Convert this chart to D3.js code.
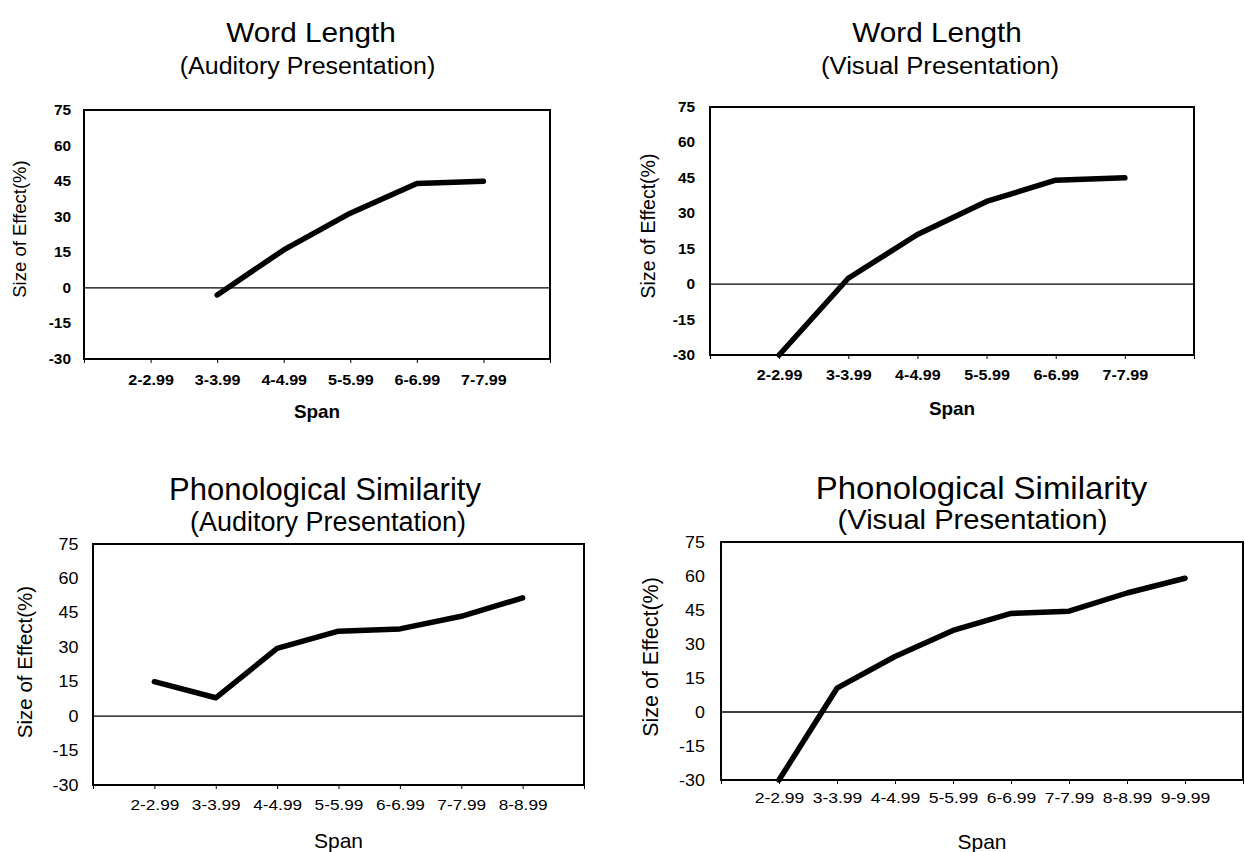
<!DOCTYPE html>
<html>
<head>
<meta charset="utf-8">
<script src="https://cdn.jsdelivr.net/npm/d3@7"></script>
<style>
  body { margin: 0; background: #fff; }
  svg { display: block; font-family: "Liberation Sans", Arial, sans-serif; }
</style>
</head>
<body>
<svg id="chart" width="1245" height="852"></svg>
<script>
// span categories
const spans6 = ["2-2.99", "3-3.99", "4-4.99", "5-5.99", "6-6.99", "7-7.99"];
const spans7 = ["2-2.99", "3-3.99", "4-4.99", "5-5.99", "6-6.99", "7-7.99", "8-8.99"];
const spans8 = ["2-2.99", "3-3.99", "4-4.99", "5-5.99", "6-6.99", "7-7.99", "8-8.99", "9-9.99"];

// size of effect (%) per span, null = no point
const wordAuditory = [null, -3, 16, 31.5, 44, 45];
const wordVisual = [-30, 2.5, 21, 35, 44, 45];
const phonoAuditory = [15, 8, 29.5, 37, 38, 43.5, 51.5];
const phonoVisual = [-30, 10.5, 24.5, 36, 43.5, 44.5, 52.5, 59];

const yTicks = [-30, -15, 0, 15, 30, 45, 60, 75];

const svg = d3.select("#chart");

const panels = [
  {
    title: "Word Length", subtitle: "(Auditory Presentation)", spans: spans6, values: wordAuditory,
    box: { left: 84, right: 550, top: 110, bottom: 359 },
    titleStyle: { x: 311, y: 42, size: 27, sx: 1.1 },
    subStyle: { x: 307.5, y: 74, size: 24.5, sx: 1.02 },
    yTick: { size: 14, weight: "bold", sx: 1.1, pad: 13 },
    xTick: { size: 14, weight: "bold", sx: 1.15, offset: 26 },
    yLabel: { x: 26, y: 229, size: 18.5 },
    span: { y: 418, size: 17.5, weight: "bold", sx: 1.08 }
  },
  {
    title: "Word Length", subtitle: "(Visual Presentation)", spans: spans6, values: wordVisual,
    box: { left: 710, right: 1194, top: 107, bottom: 355 },
    titleStyle: { x: 937, y: 42, size: 27, sx: 1.1 },
    subStyle: { x: 940, y: 74, size: 24.5, sx: 1.05 },
    yTick: { size: 14, weight: "bold", sx: 1.1, pad: 15 },
    xTick: { size: 14, weight: "bold", sx: 1.15, offset: 25 },
    yLabel: { x: 655, y: 226, size: 19.5 },
    span: { y: 415, size: 17.5, weight: "bold", sx: 1.08 }
  },
  {
    title: "Phonological Similarity", subtitle: "(Auditory Presentation)", spans: spans7, values: phonoAuditory,
    box: { left: 93, right: 584, top: 544, bottom: 785 },
    titleStyle: { x: 325, y: 500, size: 31, sx: 1.0 },
    subStyle: { x: 328, y: 531, size: 27, sx: 1.0 },
    yTick: { size: 16, weight: "normal", sx: 1.12, pad: 14.5 },
    xTick: { size: 15, weight: "normal", sx: 1.15, offset: 25 },
    yLabel: { x: 32, y: 662, size: 20.5 },
    span: { y: 848, size: 21, weight: "normal", sx: 1 }
  },
  {
    title: "Phonological Similarity", subtitle: "(Visual Presentation)", spans: spans8, values: phonoVisual,
    box: { left: 721, right: 1243, top: 542, bottom: 780 },
    titleStyle: { x: 981.5, y: 499, size: 32, sx: 1.03 },
    subStyle: { x: 972.5, y: 529, size: 27.5, sx: 1.06 },
    yTick: { size: 16, weight: "normal", sx: 1.12, pad: 16 },
    xTick: { size: 15, weight: "normal", sx: 1.17, offset: 23 },
    yLabel: { x: 658, y: 657, size: 21.5 },
    span: { y: 849, size: 21, weight: "normal", sx: 1 }
  }
];

function drawPanel(p) {
  const b = p.box;
  const g = svg.append("g");

  const x = d3.scalePoint().domain(p.spans).range([b.left, b.right]).padding(1);
  const y = d3.scaleLinear().domain([-30, 75]).range([b.bottom, b.top]);

  // titles
  g.append("text")
    .attr("transform", `translate(${p.titleStyle.x},${p.titleStyle.y}) scale(${p.titleStyle.sx},1)`)
    .attr("text-anchor", "middle")
    .style("font-size", p.titleStyle.size + "px")
    .text(p.title);
  g.append("text")
    .attr("transform", `translate(${p.subStyle.x},${p.subStyle.y}) scale(${p.subStyle.sx},1)`)
    .attr("text-anchor", "middle")
    .style("font-size", p.subStyle.size + "px")
    .text(p.subtitle);

  // x axis with small ticks under the box
  const xAxis = g.append("g")
    .attr("transform", `translate(0,${b.bottom})`)
    .call(d3.axisBottom(x).tickSizeInner(4).tickSizeOuter(4));
  xAxis.select(".domain").attr("stroke", "#000").attr("stroke-width", 1);
  xAxis.selectAll(".tick line").attr("stroke", "#000");
  xAxis.selectAll(".tick text")
    .attr("y", null).attr("dy", null)
    .attr("transform", `translate(0,${p.xTick.offset}) scale(${p.xTick.sx},1)`)
    .attr("fill", "#000")
    .style("font-family", "Liberation Sans, Arial, sans-serif")
    .style("font-size", p.xTick.size + "px")
    .style("font-weight", p.xTick.weight);

  // y axis labels only (plain hyphen for negatives)
  const yAxis = g.append("g")
    .attr("transform", `translate(${b.left},0)`)
    .call(d3.axisLeft(y).tickValues(yTicks).tickFormat(d => String(d)).tickSize(0).tickPadding(0));
  yAxis.select(".domain").remove();
  yAxis.selectAll(".tick text")
    .attr("x", null)
    .attr("transform", `translate(${-p.yTick.pad},0) scale(${p.yTick.sx},1)`)
    .attr("fill", "#000")
    .style("font-family", "Liberation Sans, Arial, sans-serif")
    .style("font-size", p.yTick.size + "px")
    .style("font-weight", p.yTick.weight);

  // plot box
  g.append("rect")
    .attr("x", b.left).attr("y", b.top)
    .attr("width", b.right - b.left).attr("height", b.bottom - b.top)
    .attr("fill", "none")
    .attr("stroke", "#000")
    .attr("stroke-width", 2);

  // zero line
  g.append("line")
    .attr("x1", b.left).attr("x2", b.right)
    .attr("y1", y(0)).attr("y2", y(0))
    .attr("stroke", "#000")
    .attr("stroke-width", 1.3);

  // data line
  const line = d3.line()
    .defined(d => d != null)
    .x((d, i) => x(p.spans[i]))
    .y(d => y(d));
  g.append("path")
    .datum(p.values)
    .attr("d", line)
    .attr("fill", "none")
    .attr("stroke", "#000")
    .attr("stroke-width", 5.5)
    .attr("stroke-linejoin", "round")
    .attr("stroke-linecap", "round");

  // axis titles
  g.append("text")
    .attr("transform", `translate(${p.yLabel.x},${p.yLabel.y}) rotate(-90)`)
    .attr("text-anchor", "middle")
    .style("font-size", p.yLabel.size + "px")
    .text("Size of Effect(%)");
  g.append("text")
    .attr("transform", `translate(${(b.left + b.right) / 2},${p.span.y}) scale(${p.span.sx},1)`)
    .attr("text-anchor", "middle")
    .style("font-size", p.span.size + "px")
    .style("font-weight", p.span.weight)
    .text("Span");
}

panels.forEach(drawPanel);
</script>
</body>
</html>
